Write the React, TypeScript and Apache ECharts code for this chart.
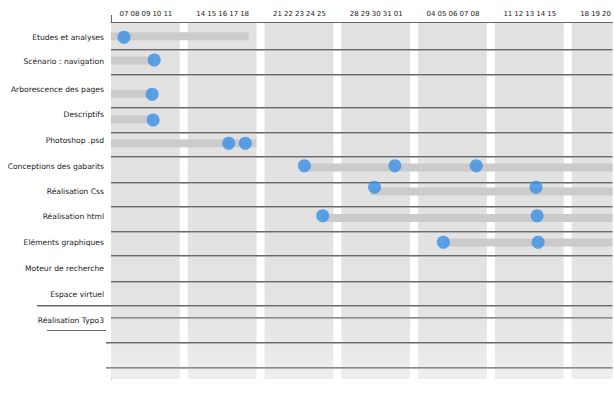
import React, { useEffect, useRef } from "react";
import * as echarts from "echarts";

// Working-day date labels (Mon..Fri for each week)
const dayLabels = [
  "07", "08", "09", "10", "11",
  "14", "15", "16", "17", "18",
  "21", "22", "23", "24", "25",
  "28", "29", "30", "31", "01",
  "04", "05", "06", "07", "08",
  "11", "12", "13", "14", "15",
  "18", "19", "20",
];

const tasks = [
  "Etudes et analyses",
  "Scénario : navigation",
  "Arborescence des pages",
  "Descriptifs",
  "Photoshop .psd",
  "Conceptions des gabarits",
  "Réalisation Css",
  "Réalisation html",
  "Eléments graphiques",
  "Moteur de recherche",
  "Espace virtuel",
  "Réalisation Typo3",
];

// vertical position (in row units from the top) of each task label
const labelRows = [0.6, 1.56, 2.68, 3.68, 4.72, 5.76, 6.76, 7.78, 8.82, 9.84, 10.88, 11.92];

// horizontal separators (row units)
const separatorRows = [1.08, 2.08, 3.4, 4.4, 5.36, 6.4, 7.36, 8.36, 9.32, 10.36, 11.32, 11.8, 12.8, 13.8];

// week index of each shaded week column
const weeks = [0, 1, 2, 3, 4, 5, 6];

// duration bars: [start day, end day, row]  (day 0 = first "07")
const barStart = [-1.2, -1.2, -1.2, -1.2, -1.2, 16.4, 22.5, 18.1, 29.2];
const barEnd = [11.36, 2.73, 2.55, 2.64, 12.07, 46, 46, 46, 46];
const barRow = [0.57, 1.54, 2.87, 3.9, 4.85, 5.82, 6.78, 7.84, 8.82];

// milestones: day, row
const milestoneDay = [0, 2.76, 2.57, 2.66, 9.55, 11.06, 16.45, 24.7, 32.12, 22.85, 37.57, 18.12, 37.67, 29.12, 37.76];
const milestoneRow = [0.61, 1.52, 2.89, 3.92, 4.85, 4.85, 5.75, 5.75, 5.75, 6.61, 6.61, 7.75, 7.75, 8.81, 8.81];

const X_MIN = -13 / 11;
const X_MAX = 490 / 11;
const Y_MAX = 357 / 25;

export default function App() {
  const ref = useRef<HTMLDivElement>(null);

  useEffect(() => {
    if (!ref.current) return;
    document.body.style.margin = "0";
    const chart = echarts.init(ref.current, undefined, { renderer: "svg", width: 614, height: 398 });

    const dayValues = dayLabels.map((_, i) => Math.floor(i / 5) * 7 + (i % 5));

    const bandFill = new echarts.graphic.LinearGradient(0, 0, 0, 1, [
      { offset: 0, color: "#e1e1e1" },
      { offset: 0.8, color: "#e3e3e3" },
      { offset: 1, color: "#eeeeee" },
    ]);

    const option: any = {
      animation: false,
      backgroundColor: "#ffffff",
      grid: { left: 111, right: 0, top: 22, bottom: 19, containLabel: false },
      xAxis: {
        type: "value",
        position: "top",
        min: X_MIN,
        max: X_MAX,
        splitLine: { show: false },
        axisTick: { show: false },
        axisLine: { show: true, onZero: false, lineStyle: { color: "#666666", width: 1 } },
        axisLabel: {
          customValues: dayValues,
          formatter: (v: number) => {
            const i = dayValues.indexOf(v);
            return i >= 0 ? dayLabels[i] : "";
          },
          fontFamily: "DejaVu Sans",
          fontSize: 7,
          color: "#222222",
          margin: 5,
          showMinLabel: true,
          showMaxLabel: true,
        },
      },
      yAxis: {
        type: "value",
        inverse: true,
        min: 0,
        max: Y_MAX,
        splitLine: { show: false },
        axisTick: { show: false },
        axisLine: { show: true, onZero: false, lineStyle: { color: "#666666", width: 1 } },
        axisLabel: {
          customValues: labelRows,
          formatter: (v: number) => {
            const i = labelRows.indexOf(v);
            return i >= 0 ? tasks[i] : "";
          },
          fontFamily: "DejaVu Sans",
          fontSize: 7.6,
          color: "#1a1a1a",
          margin: 7,
          showMinLabel: true,
          showMaxLabel: true,
        },
      },
      graphic: [
        {
          type: "line",
          shape: { x1: 111.5, y1: 15, x2: 111.5, y2: 22 },
          style: { stroke: "#666666", lineWidth: 1 },
          z: 10,
        },
      ],
      series: [
        {
          type: "custom",
          z: 1,
          silent: true,
          data: weeks.map((w) => [w]),
          renderItem: (params: any, api: any) => {
            const w = api.value(0);
            const p0 = api.coord([7 * w + X_MIN, 0]);
            const p1 = api.coord([7 * w + X_MIN + 69 / 11, Y_MAX]);
            const rect = echarts.graphic.clipRectByRect(
              { x: p0[0], y: p0[1] + 1, width: p1[0] - p0[0], height: p1[1] - p0[1] - 1 },
              params.coordSys
            );
            if (!rect) return null;
            return { type: "rect", shape: rect, style: { fill: bandFill } };
          },
        },
        {
          type: "custom",
          z: 2,
          silent: true,
          data: separatorRows.map((r) => [r]),
          renderItem: (params: any, api: any) => {
            const r = api.value(0);
            const idx = params.dataIndex;
            const a = api.coord([X_MIN, r]);
            const b = api.coord([X_MAX, r]);
            let x1 = a[0];
            if (idx === 10) x1 = 37;
            if (idx === 12 || idx === 13) x1 = 106;
            const light = idx === 13 || idx === 11;
            const children: any[] = [
              {
                type: "line",
                shape: { x1, y1: Math.round(a[1]) + 0.5, x2: b[0], y2: Math.round(a[1]) + 0.5 },
                style: { stroke: light ? "#8a8a8a" : "#6a6a6a", lineWidth: 1 },
              },
              {
                type: "line",
                shape: { x1, y1: Math.round(a[1]) + 1.5, x2: b[0], y2: Math.round(a[1]) + 1.5 },
                style: { stroke: "#b0b0b0", lineWidth: 1 },
              },
            ];
            if (idx === 12) {
              const y = Math.round(api.coord([X_MIN, 12.32])[1]) + 0.5;
              children.push({
                type: "line",
                shape: { x1: 47, y1: y, x2: 106, y2: y },
                style: { stroke: "#6a6a6a", lineWidth: 1 },
              });
            }
            return { type: "group", children };
          },
          clip: false,
        },
        {
          type: "custom",
          z: 3,
          silent: true,
          data: barStart.map((s, i) => [s, barEnd[i], barRow[i]]),
          renderItem: (params: any, api: any) => {
            const p0 = api.coord([api.value(0), api.value(2)]);
            const p1 = api.coord([api.value(1), api.value(2)]);
            const rect = echarts.graphic.clipRectByRect(
              { x: p0[0], y: p0[1] - 4, width: p1[0] - p0[0], height: 8 },
              params.coordSys
            );
            if (!rect) return null;
            return { type: "rect", shape: rect, style: { fill: "#cbcbcb" } };
          },
        },
        {
          type: "scatter",
          z: 4,
          silent: true,
          symbol: "circle",
          symbolSize: 13,
          itemStyle: { color: "#3a8ee6" },
          data: milestoneDay.map((d, i) => [d, milestoneRow[i]]),
        },
      ],
    };

    chart.setOption(option);
    return () => chart.dispose();
  }, []);

  return <div ref={ref} style={{ width: 614, height: 398, background: "#fff" }} />;
}
